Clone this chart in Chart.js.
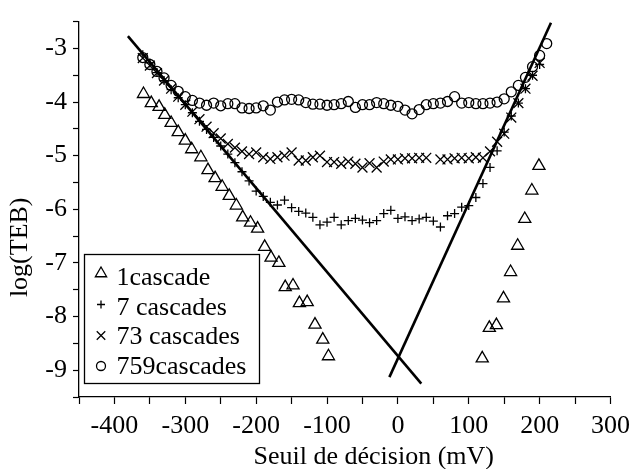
<!DOCTYPE html>
<html>
<head>
<meta charset="utf-8">
<script src="https://cdn.jsdelivr.net/npm/chart.js@4.4.0/dist/chart.umd.min.js"></script>
<style>
  html, body { margin: 0; padding: 0; background: #fff; }
</style>
</head>
<body>
<canvas id="teb" width="637" height="469"></canvas>
<script>
// Seuil de décision (mV) / log(TEB)
const seuil1 = [-359, -348, -337, -329, -320, -310, -300, -291, -278, -268, -258, -248, -238, -228, -219, -208, -198, -188, -179, -168, -159, -148, -139, -128, -117, -106, -98,
  119, 129, 139, 149, 159, 169, 179, 189, 199];
const teb1 = [-3.85, -4.02, -4.09, -4.24, -4.39, -4.56, -4.72, -4.88, -5.03, -5.27, -5.42, -5.58, -5.75, -5.93, -6.15, -6.25, -6.36, -6.70, -6.90, -7.00, -7.45, -7.42, -7.75, -7.73, -8.15, -8.43, -8.74,
  -8.78, -8.21, -8.16, -7.66, -7.17, -6.68, -6.18, -5.65, -5.19];

const seuil7 = [-360, -350, -340, -330, -320, -310, -300, -290, -280, -270, -260, -250, -240, -230, -220, -210, -200, -190, -180, -170, -160, -150, -140, -130, -120, -110, -100, -90, -80, -70, -60, -50, -40, -30, -20, -10,
  0, 10, 20, 30, 40, 50, 60, 70, 80, 90, 100, 110, 120, 130, 140, 150, 160, 170, 180, 190, 200];
const teb7 = [-3.12, -3.27, -3.45, -3.60, -3.77, -3.92, -4.05, -4.20, -4.36, -4.51, -4.66, -4.82, -4.97, -5.13, -5.30, -5.47, -5.66, -5.76, -5.87, -5.92, -5.83, -5.97, -6.04, -6.07, -6.15, -6.29, -6.24, -6.15, -6.29, -6.21, -6.17, -6.20, -6.25, -6.21, -6.08, -6.02,
  -6.17, -6.14, -6.21, -6.18, -6.15, -6.22, -6.33, -6.12, -6.08, -5.96, -5.93, -5.78, -5.52, -5.22, -4.91, -4.56, -4.26, -4.02, -3.75, -3.50, -3.30];

const seuil73 = [-360, -350, -340, -330, -320, -310, -300, -290, -280, -270, -260, -250, -240, -230, -220, -210, -200, -190, -180, -170, -160, -150, -140, -130, -120, -110, -100, -90, -80, -70, -60, -50, -40, -30, -20, -10,
  0, 10, 20, 30, 40, 60, 70, 80, 90, 100, 110, 120, 130, 140, 150, 160, 170, 180, 190, 200];
const teb73 = [-3.18, -3.32, -3.46, -3.60, -3.75, -3.90, -4.05, -4.18, -4.32, -4.46, -4.58, -4.68, -4.78, -4.85, -4.92, -4.97, -4.94, -5.03, -5.06, -5.03, -5.00, -4.94, -5.09, -5.09, -5.03, -5.00, -5.12, -5.12, -5.15, -5.11, -5.15, -5.22, -5.14, -5.22, -5.11, -5.07,
  -5.07, -5.05, -5.05, -5.04, -5.04, -5.07, -5.07, -5.05, -5.04, -5.05, -5.03, -5.04, -4.92, -4.74, -4.59, -4.29, -4.02, -3.75, -3.51, -3.27];

const seuil759 = [-360, -350, -340, -330, -320, -310, -300, -290, -280, -270, -260, -250, -240, -230, -220, -210, -200, -190, -180, -170, -160, -150, -140, -130, -120, -110, -100, -90, -80, -70, -60, -50, -40, -30, -20, -10,
  0, 10, 20, 30, 40, 50, 60, 70, 80, 90, 100, 110, 120, 130, 140, 150, 160, 170, 180, 190, 200, 210];
const teb759 = [-3.17, -3.30, -3.43, -3.55, -3.69, -3.80, -3.90, -3.97, -4.02, -4.06, -4.02, -4.07, -4.03, -4.03, -4.11, -4.12, -4.11, -4.07, -4.15, -4.00, -3.96, -3.95, -3.96, -4.01, -4.04, -4.04, -4.06, -4.05, -4.03, -3.99, -4.10, -4.05, -4.05, -4.01, -4.03, -4.06,
  -4.08, -4.15, -4.22, -4.14, -4.05, -4.03, -4.02, -3.99, -3.90, -4.02, -4.01, -4.03, -4.03, -4.02, -4.00, -3.94, -3.81, -3.69, -3.54, -3.34, -3.13, -2.91];

// droites d'asymptote
const droiteGaucheX = [-381, 33];
const droiteGaucheY = [-2.77, -9.25];
const droiteDroiteX = [-12, 216];
const droiteDroiteY = [-9.13, -2.52];

const labels = ['1cascade', '7 cascades', '73 cascades', '759cascades'];
const styles = ['triangle', 'cross', 'crossRot', 'circle'];
const tailles = [7, 4.5, 7, 5];

const xTicks = [-400, -300, -200, -100, 0, 100, 200, 300];
const yTicks = [-9, -8, -7, -6, -5, -4, -3];

const police = "'Liberation Serif', 'Times New Roman', serif";

function points(xs, ys) {
  return xs.map(function (x, i) { return { x: x, y: ys[i] }; });
}

function serie(i, xs, ys) {
  return {
    label: labels[i],
    data: points(xs, ys),
    pointStyle: styles[i],
    pointRadius: tailles[i],
    pointBorderWidth: 1.3,
    borderColor: '#000',
    backgroundColor: 'rgba(0,0,0,0)',
    showLine: false
  };
}

function droite(xs, ys) {
  return {
    label: '',
    data: points(xs, ys),
    showLine: true,
    borderColor: '#000',
    borderWidth: 2.6,
    pointRadius: 0
  };
}

// Légende encadrée + titres des axes
const legendeCadre = {
  id: 'legendeCadre',
  afterDraw: function (chart) {
    const ctx = chart.ctx;
    const area = chart.chartArea;
    ctx.save();

    // cadre
    const bx = area.left + 5.5, by = area.bottom - 142.5;
    ctx.strokeStyle = '#000';
    ctx.lineWidth = 1.3;
    ctx.strokeRect(bx, by, 175, 129);

    const decalMarque = [19, 50, 81, 111.5];
    for (let i = 0; i < labels.length; i++) {
      ctx.fillStyle = 'rgba(0,0,0,0)';
      ctx.strokeStyle = '#000';
      ctx.lineWidth = 1.3;
      Chart.helpers.drawPoint(ctx, {
        pointStyle: styles[i],
        radius: i === 2 ? 6 : tailles[i] - 0.5,
        borderWidth: 1.3
      }, bx + 16.5, by + decalMarque[i]);
    }

    ctx.font = '26px ' + police;
    ctx.fillStyle = '#000';
    ctx.textBaseline = 'alphabetic';
    ctx.textAlign = 'left';
    for (let i = 0; i < labels.length; i++) {
      ctx.fillText(labels[i], bx + 32, by + 30.5 + i * 29.7);
    }

    // titre axe x
    ctx.textAlign = 'center';
    ctx.fillText('Seuil de décision (mV)', (area.left + area.right) / 2 + 29, 464);

    // titre axe y
    ctx.translate(27, (area.top + area.bottom) / 2 + 38);
    ctx.rotate(-Math.PI / 2);
    ctx.fillText('log(TEB)', 0, 0);
    ctx.restore();
  }
};

Chart.defaults.font.family = police;
Chart.defaults.color = '#000';

new Chart(document.getElementById('teb'), {
  type: 'scatter',
  data: {
    datasets: [
      serie(0, seuil1, teb1),
      serie(1, seuil7, teb7),
      serie(2, seuil73, teb73),
      serie(3, seuil759, teb759),
      droite(droiteGaucheX, droiteGaucheY),
      droite(droiteDroiteX, droiteDroiteY)
    ]
  },
  options: {
    responsive: false,
    animation: false,
    layout: { padding: { top: 5, right: 21, bottom: 0, left: 0 } },
    plugins: {
      legend: { display: false },
      tooltip: { enabled: false }
    },
    scales: {
      x: {
        type: 'linear',
        min: -450,
        max: 300,
        afterFit: function (s) { s.height = 72; },
        border: { display: true, color: '#000', width: 1.3 },
        grid: { drawOnChartArea: false, drawTicks: true, tickLength: 7, tickColor: '#000', tickWidth: 1.2 },
        ticks: {
          stepSize: 50,
          padding: 7,
          maxRotation: 0,
          autoSkip: false,
          font: { size: 26 },
          callback: function (v) { return xTicks.indexOf(v) >= 0 ? String(v) : ''; }
        }
      },
      y: {
        type: 'linear',
        min: -9.5,
        max: -2.5,
        afterFit: function (s) { s.width = 79; },
        border: { display: true, color: '#000', width: 1.3 },
        grid: { drawOnChartArea: false, drawTicks: true, tickLength: 6, tickColor: '#000', tickWidth: 1.2 },
        ticks: {
          stepSize: 0.5,
          padding: 6,
          autoSkip: false,
          font: { size: 26 },
          callback: function (v) { return yTicks.indexOf(v) >= 0 ? String(v) : ''; }
        }
      }
    }
  },
  plugins: [legendeCadre]
});
</script>
</body>
</html>
